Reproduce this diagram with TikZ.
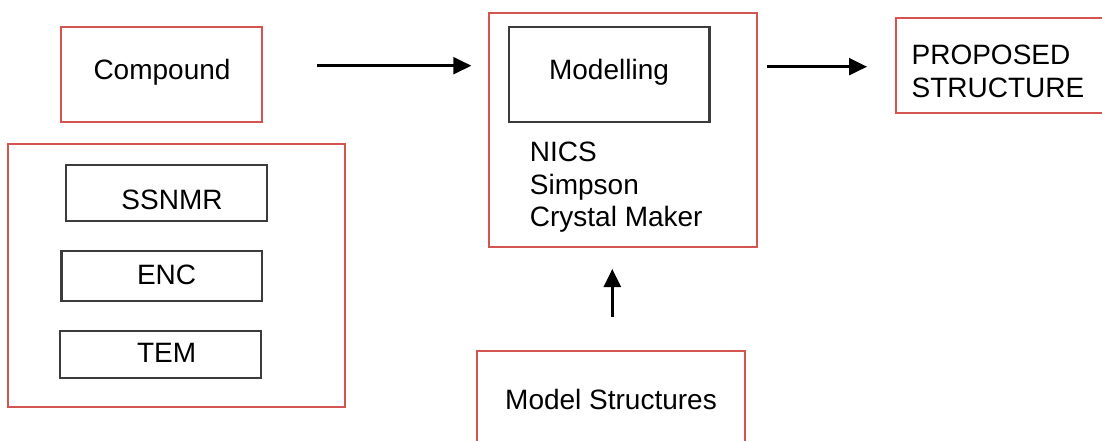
\documentclass[tikz,border=0pt]{standalone}
\usepackage{fontspec}
\setmainfont{Liberation Sans}
\usetikzlibrary{arrows.meta,calc}
\definecolor{boxred}{RGB}{212,85,80}
\definecolor{boxdark}{RGB}{60,60,60}
\tikzset{
  redbox/.style={draw=boxred,line width=2pt,inner sep=0pt,font=\fontsize{28}{32.5}\selectfont},
  darkbox/.style={draw=boxdark,line width=2.2pt,inner sep=0pt,font=\fontsize{28}{32.5}\selectfont},
  txt/.style={inner sep=0pt,font=\fontsize{28}{32.5}\selectfont},
  arr/.style={line width=2.4pt,-{Triangle[length=18pt,width=17pt]}},
}
\begin{document}
\begin{tikzpicture}[x=1pt,y=-1pt]
\useasboundingbox (0,0) rectangle (1102,441);
\clip (0,0) rectangle (1102,441);
\fill[white] (0,0) rectangle (1102,441);
% left column
\node[redbox,minimum width=200.6pt,minimum height=95pt] (comp) at (161.7,74.2) {};
\node[txt] (comptxt) at (162,72) {Compound};
\node[redbox,minimum width=336.6pt,minimum height=263pt] (exp) at (176.7,275.8) {};
\node[darkbox,minimum width=201pt,minimum height=56.3pt] (ssnmr) at (166.1,193.2) {};
\node[txt] (ssnmrtxt) at (172,200) {SSNMR};
\node[darkbox,minimum width=200.6pt,minimum height=50pt] (enc) at (161.7,275.7) {};
\node[txt] (enctxt) at (166.6,275) {ENC};
\node[darkbox,minimum width=200.6pt,minimum height=47.6pt] (tem) at (160.3,354.5) {};
\node[txt] (temtxt) at (166.6,352.7) {TEM};
% modelling
\node[redbox,minimum width=268.1pt,minimum height=234.3pt] (outer) at (623.35,129.85) {};
\node[darkbox,minimum width=200.7pt,minimum height=95pt] (model) at (609.05,74.2) {};
\node[txt] (modeltxt) at (609,72) {Modelling};
\node[txt,anchor=base west,align=left] (tools) at (529.7,226.7) {NICS\\Simpson\\Crystal Maker};
% proposed
\node[redbox,minimum width=240pt,minimum height=94.4pt] (prop) at (1016,65.5) {};
\node[txt,anchor=base west,align=left] (proptxt) at (911.4,97.3) {PROPOSED\\STRUCTURE};
% model structures
\node[redbox,minimum width=268pt,minimum height=95pt] (ms) at (610.9,398.2) {};
\node[txt] (mstxt) at (611,399) {Model Structures};
% arrows
\draw[arr] ([shift={(54,-8.5)}]comp.east) -- ([shift={(-17,-8.5)}]comp.east -| outer.west);
\draw[arr] ([shift={(9,1.2)}]outer.east |- prop.west) -- ([shift={(-28,1.2)}]prop.west);
\draw[arr] ([shift={(1.4,-32.7)}]ms.north) -- ([shift={(1.4,21)}]ms.north |- outer.south);
\end{tikzpicture}
\end{document}
